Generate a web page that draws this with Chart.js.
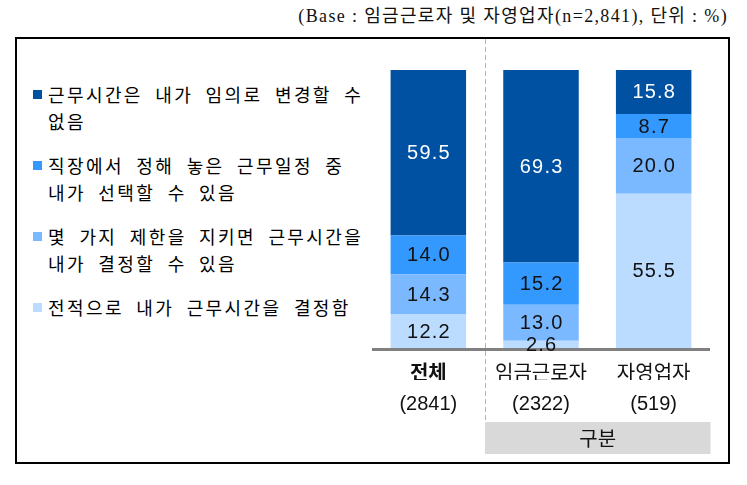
<!DOCTYPE html>
<html lang="ko">
<head>
<meta charset="utf-8">
<script src="https://cdn.jsdelivr.net/npm/chart.js@4.4.1/dist/chart.umd.min.js"></script>
<style>
  html, body { margin: 0; padding: 0; background: #fff; }
  #wrap { position: relative; width: 747px; height: 485px; overflow: hidden; }
  #frame { position: absolute; left: 15px; top: 37px; width: 715px; height: 427px; box-sizing: border-box; border: 2px solid #000; }
  #title { position: absolute; right: 19px; top: 1px; font: 18px 'Liberation Serif', 'Noto Sans CJK KR', serif; color: #111; white-space: nowrap; letter-spacing: 1.35px; }
  #legend { position: absolute; left: 33px; top: 81px; font: 18px 'Noto Sans CJK KR', sans-serif; letter-spacing: 2.4px; word-spacing: 5px; line-height: 27px; color: #000; word-break: keep-all; }
  .item { position: relative; padding-left: 15px; margin-bottom: 17px; width: 332px; }
  .box { position: absolute; left: 0; top: 9px; width: 9px; height: 9px; }
  canvas { position: absolute; left: 0; top: 0; }
</style>
</head>
<body>
<div id="wrap">
  <div id="frame"></div>
  <div id="title">(Base : 임금근로자 및 자영업자(n=2,841), 단위 : %)</div>
  <div id="legend"></div>
  <canvas id="chart" width="747" height="485"></canvas>
</div>
<script>
const categories = ['전체', '임금근로자', '자영업자']
const sampleSizes = ['(2841)', '(2322)', '(519)']
const groupTitle = '구분'

// legend order, top to bottom
const seriesNames = [
    '근무시간은 내가 임의로 변경할 수 없음',
    '직장에서 정해 놓은 근무일정 중 내가 선택할 수 있음',
    '몇 가지 제한을 지키면 근무시간을 내가 결정할 수 있음',
    '전적으로 내가 근무시간을 결정함'
]
const cannotChange = [59.5, 69.3, 15.8]
const chooseFromSchedule = [14.0, 15.2, 8.7]
const withinLimits = [14.3, 13.0, 20.0]
const decideFully = [12.2, 2.6, 55.5]

const seriesColors = ['#0051a1', '#3399ff', '#7ab9ff', '#bcdcff']
const labelColors = ['#ffffff', '#111111', '#111111', '#111111']

const seriesValues = [cannotChange, chooseFromSchedule, withinLimits, decideFully]

// legend
const legendEl = document.getElementById('legend')
seriesNames.forEach((name, i) => {
    const item = document.createElement('div')
    item.className = 'item'
    item.innerHTML = '<span class="box" style="background:' + seriesColors[i] + '"></span>' + name
    legendEl.appendChild(item)
})

// stacked bottom-up: last legend entry sits at the bottom
const datasets = []
for (let i = seriesNames.length - 1; i >= 0; i--) {
    datasets.push({
        label: seriesNames[i],
        data: seriesValues[i],
        backgroundColor: seriesColors[i],
        labelColor: labelColors[i],
        borderWidth: 0,
        barPercentage: 0.67,
        categoryPercentage: 1
    })
}

const decorations = {
    id: 'decorations',
    beforeDraw(chart) {
        const {ctx, chartArea, scales} = chart
        const split = Math.round((scales.x.getPixelForValue(0) + scales.x.getPixelForValue(1)) / 2) + 0.5
        const boxTop = scales.x2.bottom + 2
        ctx.save()
        ctx.strokeStyle = '#b4b4b4'
        ctx.lineWidth = 1
        ctx.setLineDash([5, 3])
        ctx.beginPath()
        ctx.moveTo(split, chartArea.top - 31)
        ctx.lineTo(split, boxTop)
        ctx.stroke()

        ctx.fillStyle = '#d9d9d9'
        ctx.fillRect(split - 0.5, boxTop, chartArea.right + 1 - split, 32)
        ctx.fillStyle = '#111'
        ctx.font = "20px 'Noto Sans CJK KR'"
        ctx.textAlign = 'center'
        ctx.textBaseline = 'middle'
        ctx.fillText(groupTitle, (split + chartArea.right) / 2, boxTop + 16)
        ctx.restore()
    },
    afterDatasetsDraw(chart) {
        const {ctx, chartArea} = chart
        ctx.save()
        // base line
        ctx.strokeStyle = '#808080'
        ctx.lineWidth = 3
        ctx.beginPath()
        ctx.moveTo(chartArea.left, chartArea.bottom + 1.5)
        ctx.lineTo(chartArea.right, chartArea.bottom + 1.5)
        ctx.stroke()

        // values
        ctx.font = "20px 'Liberation Sans'"
        ctx.letterSpacing = '1.2px'
        ctx.textAlign = 'center'
        ctx.textBaseline = 'middle'
        chart.data.datasets.forEach((ds, di) => {
            const meta = chart.getDatasetMeta(di)
            meta.data.forEach((bar, i) => {
                const p = bar.getProps(['x', 'y', 'base'], true)
                ctx.fillStyle = ds.labelColor
                ctx.fillText(ds.data[i].toFixed(1), p.x + 0.6, (p.y + p.base) / 2 + 1)
            })
        })
        ctx.restore()
    }
}

const chart = new Chart(document.getElementById('chart'), {
    type: 'bar',
    data: { labels: categories, datasets: datasets },
    options: {
        responsive: false,
        animation: false,
        layout: { padding: { left: 372, right: 37, top: 70, bottom: 65 } },
        plugins: { legend: { display: false }, tooltip: { enabled: false } },
        scales: {
            x: {
                stacked: true,
                weight: 0,
                grid: { display: false, drawTicks: false },
                border: { display: false },
                ticks: {
                    padding: 12,
                    color: '#111',
                    font: (c) => ({ family: "'Noto Sans CJK KR'", size: 20, weight: c.index === 0 ? 'bold' : 'normal' })
                },
                afterFit: (s) => { s.height = 32 }
            },
            x2: {
                type: 'category',
                labels: sampleSizes,
                position: 'bottom',
                weight: 1,
                grid: { display: false, drawTicks: false },
                border: { display: false },
                ticks: { padding: 12, color: '#111', font: { family: "'Liberation Sans'", size: 20 } },
                afterFit: (s) => { s.height = 40 }
            },
            y: { stacked: true, display: false, min: 0, max: 100 }
        }
    },
    plugins: [decorations]
})
</script>
</body>
</html>
